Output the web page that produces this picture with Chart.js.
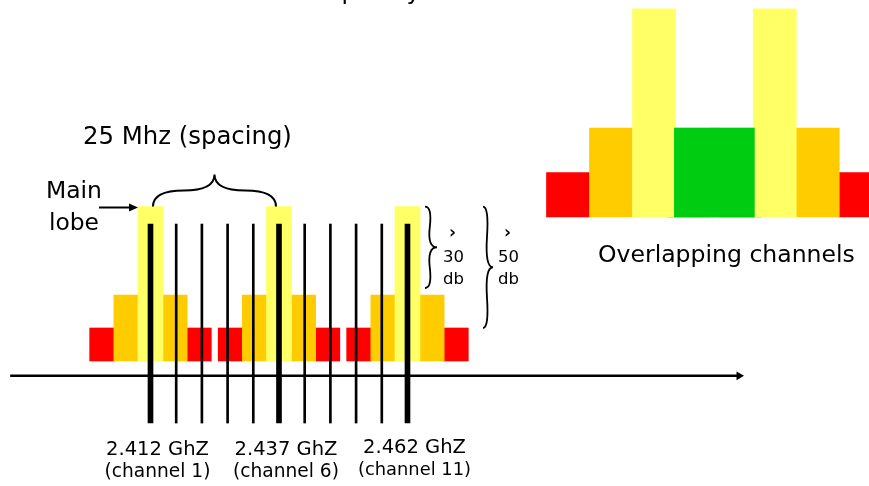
<!DOCTYPE html>
<html><head><meta charset="utf-8">
<script src="https://cdn.jsdelivr.net/npm/chart.js@4/dist/chart.umd.min.js"></script>
<style>html,body{margin:0;padding:0;background:#fff;overflow:hidden}#wrap{position:relative;width:869px;height:486px}</style>
</head><body><div id="wrap"><canvas id="c" width="869" height="486"></canvas></div>
<script>
// ---------- data ----------
const channelNumbers = [1, 2, 3, 4, 5, 6, 7, 8, 9, 10, 11];
const channelFreqs = [2412, 2417, 2422, 2427, 2432, 2437, 2442, 2447, 2452, 2457, 2462]; // MHz
const labelledChannels = [1, 6, 11];
const channelLabels = ['2.412 GhZ', '2.437 GhZ', '2.462 GhZ'];
const channelNames = ['(channel 1)', '(channel 6)', '(channel 11)'];
const lobeOffsets = [-9.4, -4.7, 0, 4.7, 9.4];      // MHz from channel centre
const lobeLevels = [1, 2, 4.68, 2, 1];               // relative level
const lobeKinds = ['second', 'first', 'main', 'first', 'second'];
const markerRange = [-1.88, 4.15];                   // channel marker extent (level units)
const axisSpan = [2384.7, 2526.5];                   // frequency axis (MHz)
const axisLevel = -0.45;
const overlapCentres = [0, 13.2];                    // MHz, two overlapping channels
const overlapMid = [6.6];
const overlapLevel = [2];
const rejectionTexts = ['30', '50'];
const titleText = 'Frequency';
const spacingText = '25 Mhz (spacing)';
const lobeText = ['Main', 'lobe'];
const overlapText = 'Overlapping channels';

// ---------- styles ----------
const palette = { main: '#FFFF66', first: '#FFCC00', second: '#FF0000', overlap: '#00CC11', ink: '#000000' };
const FONT = '"DejaVu Sans", sans-serif';

function lobePoints(centres, kind) {
  const pts = [];
  centres.forEach(c => lobeOffsets.forEach((o, i) => {
    if (lobeKinds[i] === kind) pts.push({ x: c + o, y: lobeLevels[i] });
  }));
  return pts;
}
const labelledFreqs = labelledChannels.map(n => channelFreqs[channelNumbers.indexOf(n)]);
const thinFreqs = channelNumbers.filter(n => !labelledChannels.includes(n)).map(n => channelFreqs[channelNumbers.indexOf(n)]);

function drawBrace(ctx, x1, y1, x2, y2, w, q) {
  let dx = x1 - x2, dy = y1 - y2; const len = Math.hypot(dx, dy); dx /= len; dy /= len;
  const qx1 = x1 + q * w * dy, qy1 = y1 - q * w * dx;
  const qx2 = (x1 - .25 * len * dx) + (1 - q) * w * dy, qy2 = (y1 - .25 * len * dy) - (1 - q) * w * dx;
  const tx = (x1 - .5 * len * dx) + w * dy, ty = (y1 - .5 * len * dy) - w * dx;
  const qx3 = x2 + q * w * dy, qy3 = y2 - q * w * dx;
  const qx4 = (x1 - .75 * len * dx) + (1 - q) * w * dy, qy4 = (y1 - .75 * len * dy) - (1 - q) * w * dx;
  ctx.beginPath();
  ctx.moveTo(x1, y1); ctx.quadraticCurveTo(qx1, qy1, qx2, qy2);
  ctx.quadraticCurveTo(2 * qx2 - qx1, 2 * qy2 - qy1, tx, ty);
  ctx.moveTo(x2, y2); ctx.quadraticCurveTo(qx3, qy3, qx4, qy4);
  ctx.quadraticCurveTo(2 * qx4 - qx3, 2 * qy4 - qy3, tx, ty);
  ctx.stroke();
}
function fitText(ctx, text, x, y, width, align, maxSize) {
  ctx.font = '100px ' + FONT;
  const w = ctx.measureText(text).width;
  let size = 100 * width / w;
  if (maxSize) size = Math.min(size, maxSize);
  ctx.font = size.toFixed(2) + 'px ' + FONT;
  ctx.textAlign = align || 'left';
  ctx.textBaseline = 'alphabetic';
  ctx.fillText(text, x, y);
}

const annotate = {
  id: 'annotate',
  afterDatasetsDraw(chart) {
    const { ctx, scales } = chart;
    const x = scales.x, y = scales.y;
    ctx.save();
    ctx.fillStyle = palette.ink; ctx.strokeStyle = palette.ink; ctx.lineWidth = 2;
    const mainTop = y.getPixelForValue(lobeLevels[2]);
    const barHalf = 12.5;

    // title (only descenders visible)
    ctx.font = '24px ' + FONT; ctx.textAlign = 'left'; ctx.textBaseline = 'alphabetic';
    const tl = 345 - ctx.measureText('Fre').width - ctx.measureText('q').width * 0.8;
    ctx.fillText(titleText, tl, -1);

    // spacing brace + label
    const c1 = x.getPixelForValue(labelledFreqs[0]), c6 = x.getPixelForValue(labelledFreqs[1]), c11 = x.getPixelForValue(labelledFreqs[2]);
    drawBrace(ctx, c6 - 3, mainTop, c1 + 2.5, mainTop, 32, 0.5);
    fitText(ctx, spacingText, 83, 144, 209);

    // main lobe label + arrow
    fitText(ctx, lobeText[0], 46, 198, 56);
    fitText(ctx, lobeText[1], 49, 230, 50);
    const tipX = c1 - barHalf, ay = mainTop + 1;
    ctx.beginPath(); ctx.moveTo(99, ay); ctx.lineTo(tipX - 6, ay); ctx.stroke();
    ctx.beginPath(); ctx.moveTo(tipX, ay); ctx.lineTo(tipX - 9, ay - 4); ctx.lineTo(tipX - 9, ay + 4); ctx.closePath(); ctx.fill();

    // rejection braces
    const bx1 = c11 + barHalf + 5, bx2 = bx1 + 58;
    const firstTop = y.getPixelForValue(lobeLevels[1]), secondTop = y.getPixelForValue(lobeLevels[0]);
    ctx.lineWidth = 1.8;
    drawBrace(ctx, bx1, firstTop - 7, bx1, mainTop, 12, 0.6);
    drawBrace(ctx, bx2, secondTop, bx2, mainTop, 10, 0.6);
    [bx1 + 18, bx2 + 15].forEach((tx, i) => {
      ctx.font = 'bold 17px ' + FONT; ctx.textAlign = 'left';
      ctx.fillText('\u203A', tx + 6, 238);
      fitText(ctx, rejectionTexts[i], tx, 262, 21);
      fitText(ctx, 'db', tx, 284, 21);
    });

    // channel labels
    [c1, c6, c11].forEach((cx, i) => {
      const dy = i === 2 ? -2 : 0;
      fitText(ctx, channelLabels[i], cx + 7, 455 + dy, 103, 'center');
      fitText(ctx, channelNames[i], cx + 7, 477 + dy, i === 2 ? 113 : 106, 'center', 20.5);
    });

    // overlapping caption
    fitText(ctx, overlapText, 598, 262, 257);
    ctx.restore();
  }
};

const common = { type: 'bar', grouped: false, borderWidth: 0, borderSkipped: false };
const chart = new Chart(document.getElementById('c'), {
  type: 'bar',
  data: {
    datasets: [
      { ...common, label: 'main channels', xAxisID: 'x', yAxisID: 'y', order: 0, barThickness: 5,
        backgroundColor: palette.ink, data: labelledFreqs.map(f => ({ x: f, y: markerRange })) },
      { ...common, label: 'other channels', xAxisID: 'x', yAxisID: 'y', order: 0, barThickness: 2,
        backgroundColor: palette.ink, data: thinFreqs.map(f => ({ x: f, y: markerRange })) },
      { type: 'line', label: 'frequency axis', xAxisID: 'x', yAxisID: 'y', order: 0,
        borderColor: palette.ink, borderWidth: 2.5, backgroundColor: palette.ink,
        pointRadius: [0, 5], pointStyle: 'triangle', rotation: 90, pointBorderWidth: 0,
        data: axisSpan.map(f => ({ x: f, y: axisLevel })) },
      { ...common, label: 'main lobe', xAxisID: 'x', yAxisID: 'y', order: 2, barThickness: 25,
        backgroundColor: palette.main, data: lobePoints(labelledFreqs, 'main') },
      { ...common, label: 'first side lobes', xAxisID: 'x', yAxisID: 'y', order: 3, barThickness: 25,
        backgroundColor: palette.first, data: lobePoints(labelledFreqs, 'first') },
      { ...common, label: 'second side lobes', xAxisID: 'x', yAxisID: 'y', order: 4, barThickness: 25,
        backgroundColor: palette.second, data: lobePoints(labelledFreqs, 'second') },
      { ...common, label: 'overlap', xAxisID: 'x2', yAxisID: 'y2', order: 1, barThickness: 80,
        backgroundColor: palette.overlap, data: overlapMid.map((m, i) => ({ x: m, y: overlapLevel[i] })) },
      { ...common, label: 'overlap main', xAxisID: 'x2', yAxisID: 'y2', order: 2, barThickness: 43,
        backgroundColor: palette.main, data: lobePoints(overlapCentres, 'main') },
      { ...common, label: 'overlap first', xAxisID: 'x2', yAxisID: 'y2', order: 3, barThickness: 43,
        backgroundColor: palette.first, data: lobePoints(overlapCentres, 'first') },
      { ...common, label: 'overlap second', xAxisID: 'x2', yAxisID: 'y2', order: 4, barThickness: 43,
        backgroundColor: palette.second, data: lobePoints(overlapCentres, 'second') }
    ]
  },
  options: {
    responsive: false, animation: false, devicePixelRatio: 1,
    layout: { padding: 0, autoPadding: false },
    plugins: { legend: { display: false }, tooltip: { enabled: false } },
    scales: {
      x: { type: 'linear', display: false, offset: false, min: 2382.72, max: 2551.79 },
      y: { type: 'linear', display: false, min: -3.788, max: 10.939 },
      x2: { type: 'linear', display: false, offset: false, min: -71.48, max: 23.50 },
      y2: { type: 'linear', display: false, min: -6.045, max: 4.876 }
    }
  },
  plugins: [annotate]
});
</script></body></html>
